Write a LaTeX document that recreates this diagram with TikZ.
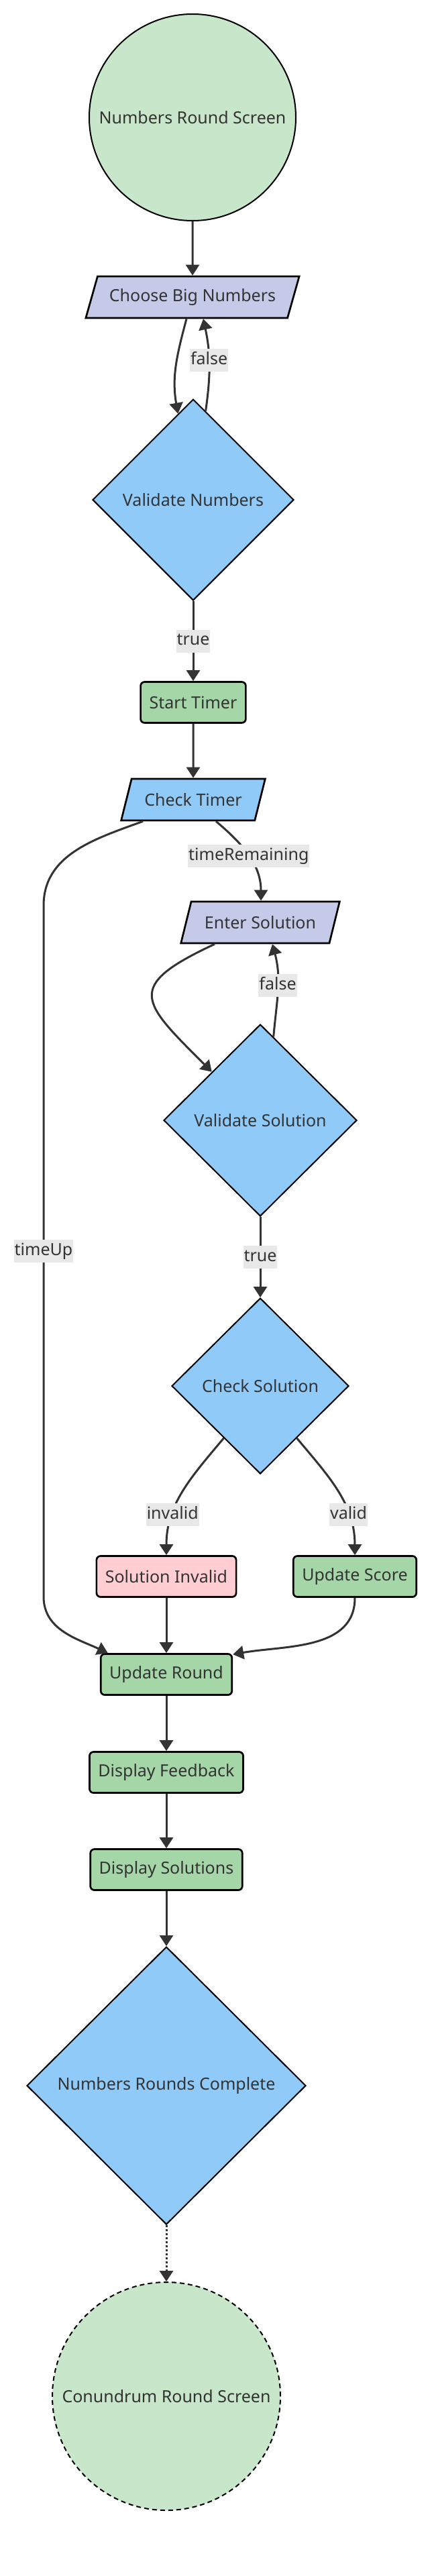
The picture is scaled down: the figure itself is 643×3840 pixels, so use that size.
\documentclass[tikz,border=0pt]{standalone}
\usepackage{fontspec}
\setmainfont{Noto Sans}
\usetikzlibrary{shapes.geometric, arrows.meta}

\definecolor{screengreen}{HTML}{C8E6C9}
\definecolor{inputlilac}{HTML}{C5CAE9}
\definecolor{decblue}{HTML}{90CAF9}
\definecolor{stepgreen}{HTML}{A5D6A7}
\definecolor{errpink}{HTML}{FFCDD2}
\definecolor{lblgray}{HTML}{E8E8E8}
\definecolor{inkgray}{HTML}{333333}

\begin{document}
\begin{tikzpicture}[
  x=1pt, y=1pt,
  font=\fontsize{25}{30}\selectfont, text=inkgray,
  %% Round screens (start / next screen)
  screen/.style={circle, draw=black, line width=2pt,
                 fill=screengreen, inner sep=0pt},
  %% Input parallelograms
  inbox/.style={trapezium, trapezium left angle=63.4,
                trapezium right angle=116.6, trapezium stretches=true,
                draw=black, line width=2.7pt, minimum height=62pt,
                inner xsep=4pt},
  %% Decision diamonds
  decision/.style={diamond, draw=black, line width=2pt,
                   fill=decblue, inner sep=0pt},
  %% Process boxes
  stepbox/.style={rectangle, rounded corners=6pt, draw=black,
                  line width=2.7pt, minimum height=61pt, inner xsep=13pt,
                  fill=stepgreen},
  %% Edge labels
  lbl/.style={fill=lblgray, inner xsep=1pt, inner ysep=5pt,
              text height=18pt, text depth=6pt},
  %% Solid arrow
  arr/.style={-{Triangle[width=20pt,length=16pt]}, line width=3pt,
              draw=inkgray},
  %% Dotted arrow (to next round)
  darr/.style={arr, dash pattern=on 3pt off 3pt}
]

\useasboundingbox (0,0) rectangle (643,-3840);

%% ── Numbers input ───────────────────────────────────────────────────────
\node[screen, minimum size=308pt] (start) at (287, -175) {Numbers Round Screen};
\node[inbox, fill=inputlilac, minimum width=319pt] (cbn) at (287, -443) {Choose Big Numbers};
\node[decision, minimum width=300pt, minimum height=300pt] (vnum) at (288, -745) {Validate Numbers};
\node[stepbox] (sttimer) at (288, -1047) {Start Timer};
\node[inbox, fill=decblue, minimum width=215pt] (ct) at (288, -1192) {Check Timer};

%% ── Solution branch ─────────────────────────────────────────────────────
\node[inbox, fill=inputlilac, minimum width=237pt] (es) at (388, -1375) {Enter Solution};
\node[decision, minimum width=288pt, minimum height=286pt] (vs) at (388, -1670) {Validate Solution};
\node[decision, minimum width=264pt, minimum height=262pt] (cs) at (388, -2066) {Check Solution};
\node[stepbox, fill=errpink] (si) at (248, -2350) {Solution Invalid};
\node[stepbox] (us) at (529, -2350) {Update Score};

%% ── End of round ────────────────────────────────────────────────────────
\node[stepbox] (ur) at (248, -2496) {Update Round};
\node[stepbox] (df) at (248, -2642) {Display Feedback};
\node[stepbox] (ds) at (248, -2787) {Display Solutions};
\node[decision, minimum width=416pt, minimum height=414pt] (nrc) at (248, -3109) {Numbers Rounds Complete};
\node[screen, minimum size=340pt, dash pattern=on 7pt off 5pt] (crs) at (248, -3572) {Conundrum Round Screen};

%% bend points of the timeUp edge
\coordinate (tu1) at (65, -1350);
\coordinate (tu2) at (65, -2380);

%% ── Arrows ───────────────────────────────────────────────────────────────
\draw[arr] (start.south) -- (cbn.north);
\draw[arr] ([xshift=-9pt]cbn.south) to[out=-105, in=100] (vnum.100);
\draw[arr] (vnum.82) to[out=82, in=-78] node[lbl, pos=0.55] {false} ([xshift=16pt]cbn.south);
\draw[arr] (vnum.south) -- node[lbl] {true} (sttimer.north);
\draw[arr] (sttimer.south) -- (ct.north);
\draw[arr] ([xshift=34pt]ct.south) to[out=-40, in=90] node[lbl, pos=0.5] {timeRemaining} ([xshift=1pt]es.north);
\draw[arr] ([xshift=-75pt]ct.south) to[out=200, in=90] (tu1)
  -- node[lbl] {timeUp} (tu2) to[out=-90, in=155] ([xshift=12pt]ur.north west);

\draw[arr] ([xshift=-68pt]es.south) to[out=205, in=135, looseness=2] (vs.135);
\draw[arr] (vs.81) to[out=85, in=-75] node[lbl, pos=0.55] {false} ([xshift=18pt]es.south);
\draw[arr] (vs.south) -- node[lbl] {true} (cs.north);
\draw[arr] (cs.235) to[out=-130, in=90] node[lbl, pos=0.7] {invalid} (si.north);
\draw[arr] (cs.-55) to[out=-50, in=90] node[lbl, pos=0.7] {valid} (us.north);

\draw[arr] (si.south) -- (ur.north);
\draw[arr] (us.south) to[out=-90, in=10] ([yshift=-2pt]ur.north east);
\draw[arr] (ur.south) -- (df.north);
\draw[arr] (df.south) -- (ds.north);
\draw[arr] (ds.south) -- (nrc.north);
\draw[darr] (nrc.south) -- (crs.north);

\end{tikzpicture}
\end{document}
